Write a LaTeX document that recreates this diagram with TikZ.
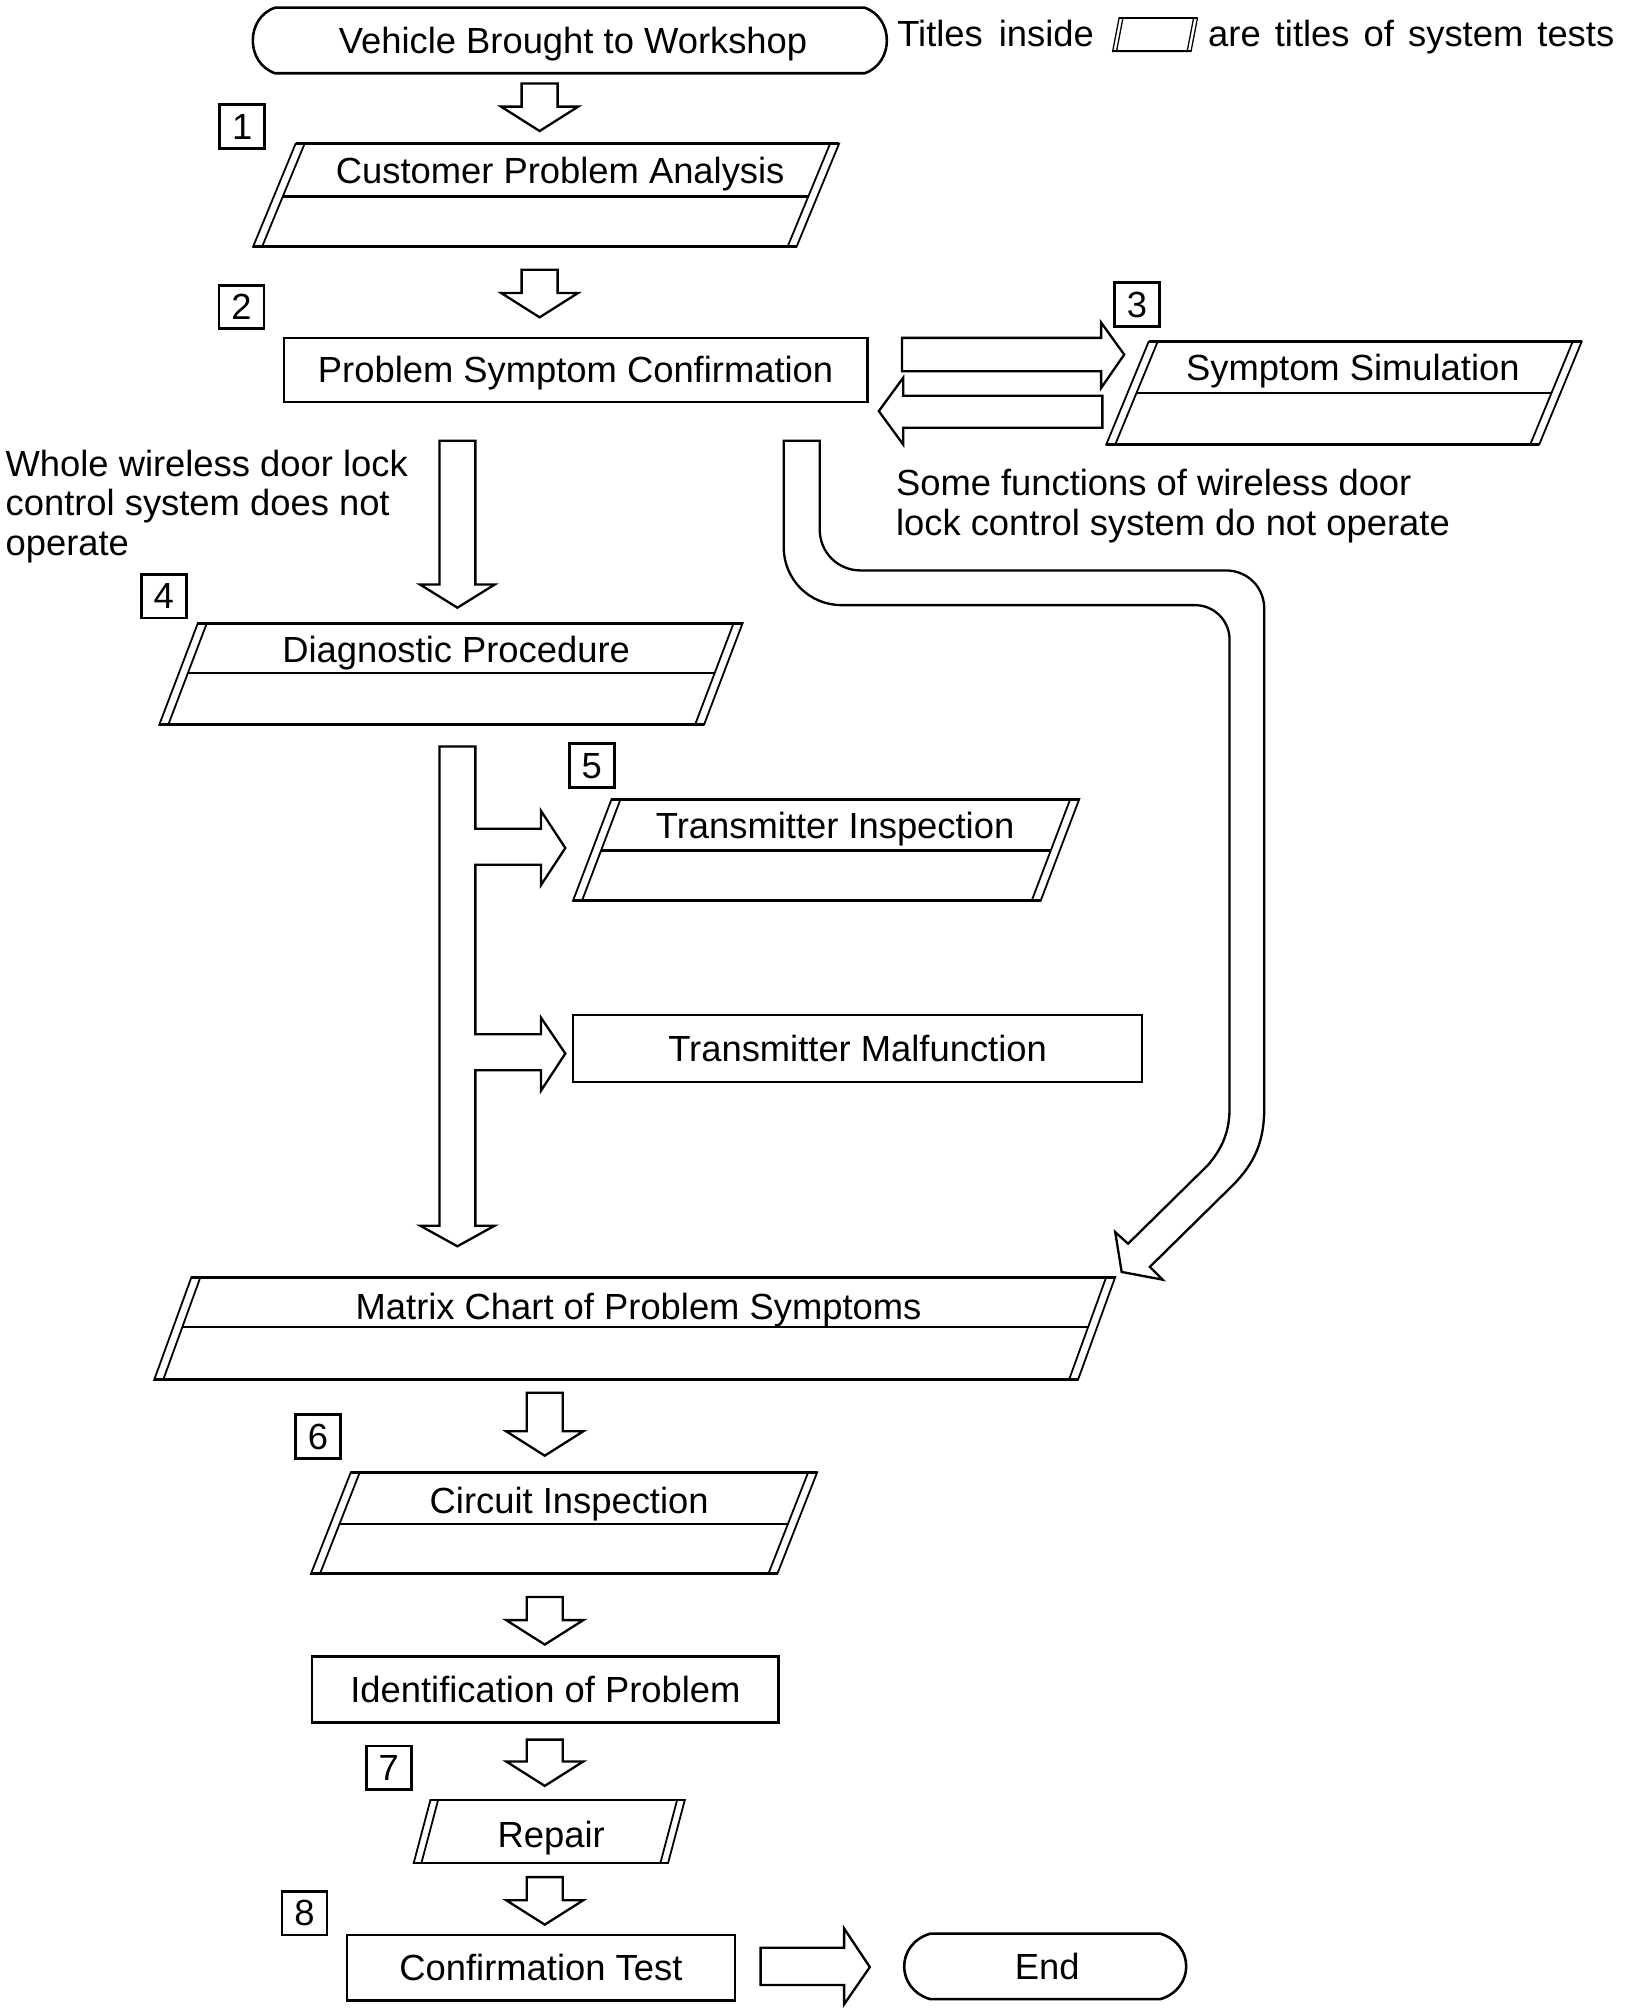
\documentclass[tikz,border=0pt]{standalone}
\usepackage{fontspec}
\setmainfont{Liberation Sans}
\usetikzlibrary{calc}
\newcommand\lblfont{\fontsize{14.15pt}{15.25pt}\selectfont}
% parallelogram: #1 top-left x, #2 top y, #3 bottom-left x, #4 bottom y, #5 width, #6 inner offset
\newcommand\pgram[6]{%
  \draw[pgside] (#1,#2) -- ({#1+#5},#2) -- ({#3+#5},#4) -- (#3,#4) -- cycle;
  \draw[pgside] ({#1+#6},#2) -- ({#3+#6},#4);
  \draw[pgside] ({#1+#5-#6},#2) -- ({#3+#5-#6},#4);
  \draw[pgedge] (#1,#2) -- ({#1+#5},#2);
  \draw[pgedge] (#3,#4) -- ({#3+#5},#4);
}
\newcommand\pgmid[7]{%
  \pgfmathsetmacro\pgxl{#1+#6+(#3-#1)*(#7-#2)/(#4-#2)}%
  \pgfmathsetmacro\pgxr{\pgxl+#5-2*#6}%
  \draw[pgmidline] (\pgxl,#7) -- (\pgxr,#7);
}
\newcommand\dnarrow[3]{%
  \draw[harrow] ({#1-14},#2) -- ({#1+14},#2) -- ({#1+14},{#3-19}) -- ({#1+30},{#3-19})
    -- (#1,#3) -- ({#1-30},{#3-19}) -- ({#1-14},{#3-19}) -- cycle;
}
\tikzset{
  pgside/.style={line width=0.7pt, line join=miter},
  pgedge/.style={line width=1.1pt},
  pgmidline/.style={line width=0.9pt},
  harrow/.style={line width=0.9pt, line join=miter},
  term/.style={line width=1pt},
  lbl/.style={inner sep=0pt, font=\lblfont, text height=10pt, text depth=0pt},
  rbox/.style={draw, line width=1pt, inner sep=0pt, font=\lblfont, text height=10pt, text depth=0pt},
  numbox/.style={draw, line width=1.1pt, minimum width=17.5pt, minimum height=17pt, inner sep=0pt,
    font=\lblfont, text height=10pt, text depth=0pt},
}
\begin{document}
\begin{tikzpicture}[x=0.5pt, y=-0.5pt]
\fill[white] (0,0) rectangle (1270,1566);
\useasboundingbox (0,0) rectangle (1270,1566);

% start terminal
\draw[term] (214,6) -- (673,6) .. controls (696,14) and (696,49) .. (673,57) -- (214,57)
  .. controls (191,49) and (191,14) .. (214,6) -- cycle;
\node[lbl] (start) at (446,32) {Vehicle Brought to Workshop};

% legend
\node[lbl, anchor=base west] (leg1) at (698,36) {\makebox[76.5pt][s]{Titles inside}};
\begin{scope}[pgedge/.style={line width=0.8pt}, pgside/.style={line width=0.5pt}]
  \pgram{871}{14}{866}{40}{61}{3}
\end{scope}
\node[lbl, anchor=base west] (leg2) at (940,36) {\makebox[158pt][s]{are titles of system tests}};

% step 1
\dnarrow{420}{65}{102}
\node[numbox] (n1) at (188.5,98.5) {1};
\pgram{230}{112}{197}{192}{423}{7}
\pgmid{230}{112}{197}{192}{423}{7}{153}
\node[lbl] (cpa) at (436,133) {Customer Problem Analysis};

% step 2
\dnarrow{420}{210}{247}
\node[numbox] (n2) at (188,239) {2};
\node[rbox, minimum width=227pt, minimum height=25pt] (psc) at (448,288) {Problem Symptom Confirmation};

% step 3
\draw[harrow] (702,263) -- (857,263) -- (857,251) -- (875,276) -- (857,302) -- (857,289) -- (702,289) -- cycle;
\draw[harrow] (858,308) -- (703,308) -- (703,294) -- (684,320) -- (703,346) -- (703,333) -- (858,333) -- cycle;
\node[numbox] (n3) at (885,237) {3};
\pgram{894}{266}{861}{346}{337}{7}
\pgmid{894}{266}{861}{346}{337}{7}{306}
\node[lbl] (ss) at (1053,286) {Symptom Simulation};

\node[lbl, anchor=base west] (sf1) at (697,386) {Some functions of wireless door};
\node[lbl, anchor=base west] (sf2) at (697,417) {lock control system do not operate};
\node[lbl, anchor=base west] (wh1) at (4,371) {Whole wireless door lock};
\node[lbl, anchor=base west] (wh2) at (4,401.5) {control system does not};
\node[lbl, anchor=base west] (wh3) at (4,432) {operate};

% long arrow down to diagnostic procedure
\draw[harrow] (342,343) -- (370,343) -- (370,455) -- (385,455) -- (356,473) -- (327,455) -- (342,455) -- cycle;

% curved arrow to matrix chart
\draw[harrow] (610,343) -- (610,426) .. controls (610,451) and (630,471) .. (655,471) -- (930,471)
  .. controls (945,471) and (957,483) .. (957,498) -- (957,862) .. controls (957,880) and (952,893) .. (940,907)
  -- (878,968) -- (868,959) -- (873,990) -- (905,996) -- (895,986) -- (959,923)
  .. controls (977,905) and (984,888) .. (984,862) -- (984,474) .. controls (984,457) and (971,444) .. (954,444)
  -- (670,444) .. controls (652,444) and (638,430) .. (638,412) -- (638,343) -- cycle;

% step 4
\node[numbox] (n4) at (127.5,464) {4};
\pgram{154}{485}{124}{564}{424}{7}
\pgmid{154}{485}{124}{564}{424}{7}{524}
\node[lbl] (dp) at (355,506) {Diagnostic Procedure};

% branching arrow
\draw[harrow] (342,581) -- (370,581) -- (370,645) -- (421,645) -- (421,631) -- (440,660) -- (421,689)
  -- (421,673) -- (370,673) -- (370,805) -- (421,805) -- (421,792) -- (440,820) -- (421,849)
  -- (421,833) -- (370,833) -- (370,954) -- (385,954) -- (356,970) -- (327,954) -- (342,954) -- cycle;

% step 5
\node[numbox] (n5) at (460.5,596) {5};
\pgram{476}{622}{446}{701}{364}{7}
\pgmid{476}{622}{446}{701}{364}{7}{662}
\node[lbl] (ti) at (650,643) {Transmitter Inspection};
\node[rbox, minimum width=221.5pt, minimum height=26pt] (tm) at (667.5,816) {Transmitter Malfunction};

% matrix chart
\pgram{149}{994}{120}{1074}{719}{7}
\pgmid{149}{994}{120}{1074}{719}{7}{1033}
\node[lbl] (mc) at (497,1017) {Matrix Chart of Problem Symptoms};

% step 6
\dnarrow{424}{1084}{1133}
\node[numbox] (n6) at (247.5,1118) {6};
\pgram{273}{1146}{242}{1225}{363}{7}
\pgmid{273}{1146}{242}{1225}{363}{7}{1186}
\node[lbl] (ci) at (443,1168) {Circuit Inspection};

\dnarrow{424}{1243}{1280}
\node[rbox, minimum width=181.5pt, minimum height=25.5pt] (iop) at (424.5,1315) {Identification of Problem};

% step 7
\dnarrow{424}{1354}{1390}
\node[numbox] (n7) at (302.5,1376) {7};
\pgram{335}{1401}{322}{1450}{198}{6}
\node[lbl] (rep) at (429,1428) {Repair};

% step 8
\dnarrow{424}{1461}{1498}
\node[numbox] (n8) at (237,1489) {8};
\node[rbox, minimum width=151pt, minimum height=25.5pt] (ct) at (421,1531.5) {Confirmation Test};
\draw[harrow] (592,1516) -- (657,1516) -- (657,1501) -- (677,1531) -- (657,1560) -- (657,1545) -- (592,1545) -- cycle;

% end terminal
\draw[term] (724,1505) -- (903,1505) .. controls (930,1513) and (930,1548) .. (903,1556) -- (724,1556)
  .. controls (697,1548) and (697,1513) .. (724,1505) -- cycle;
\node[lbl] (end) at (815,1531) {End};
\end{tikzpicture}
\end{document}
